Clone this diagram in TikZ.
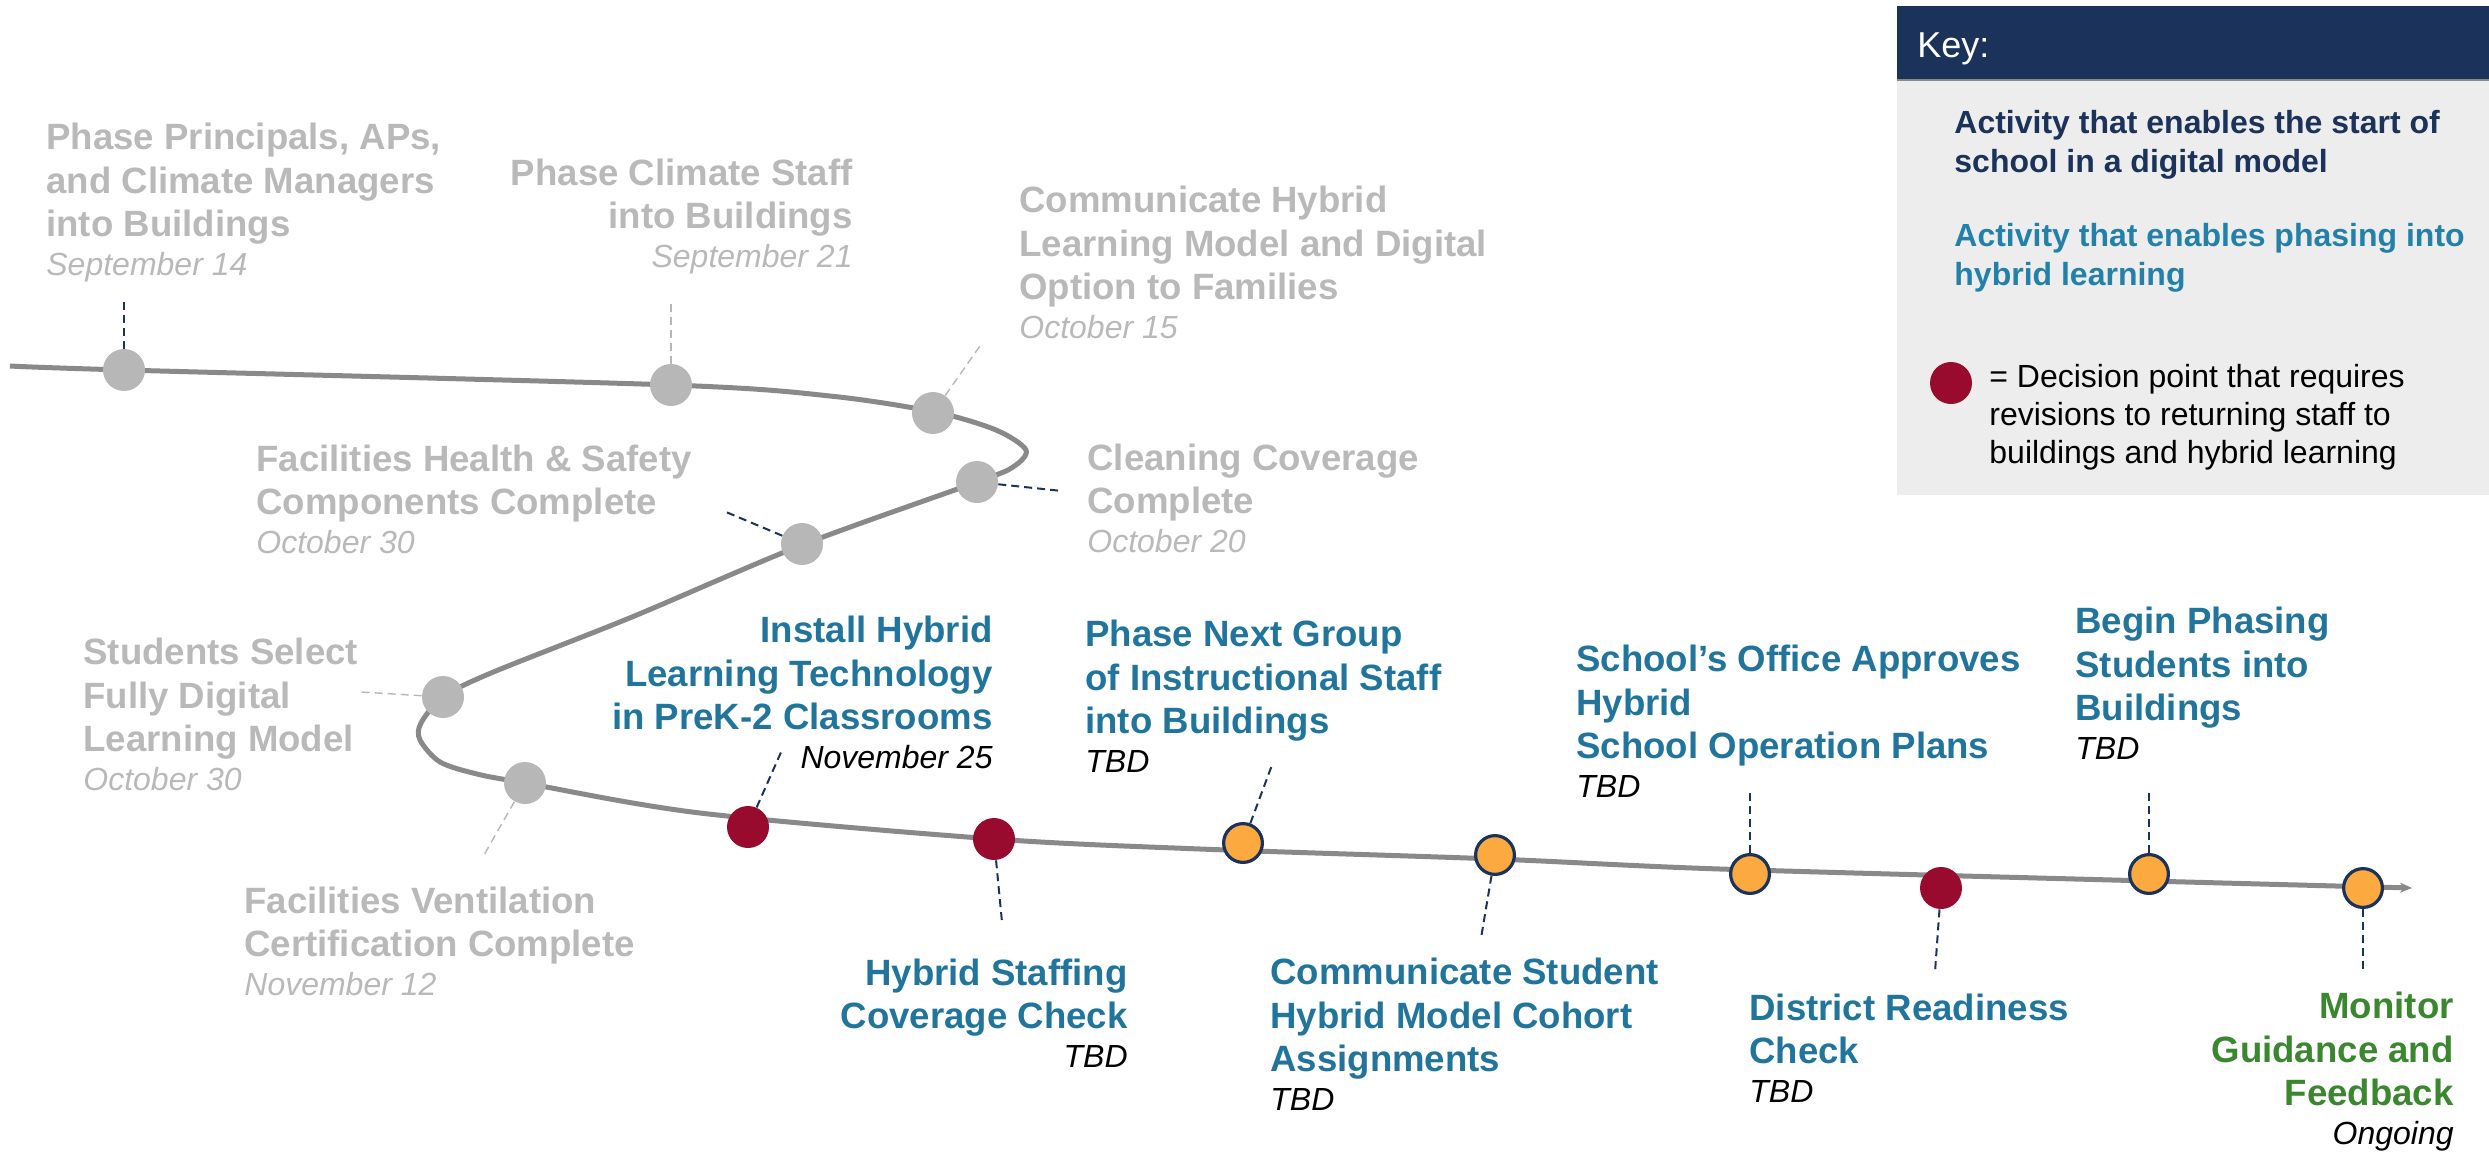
\documentclass[tikz,border=0pt]{standalone}
\usepackage{fontspec}
\setmainfont{Liberation Sans}
\usetikzlibrary{arrows.meta}

\definecolor{navy}{RGB}{27,50,90}
\definecolor{keybg}{RGB}{237,237,237}
\definecolor{linegray}{RGB}{137,137,137}
\definecolor{dotgray}{RGB}{183,183,183}
\definecolor{txtgray}{RGB}{185,185,185}
\definecolor{decred}{RGB}{153,10,47}
\definecolor{dotorange}{RGB}{252,170,64}
\definecolor{hybblue}{RGB}{33,117,157}
\definecolor{keyblue}{RGB}{35,128,168}
\definecolor{mongreen}{RGB}{58,135,48}

\newcommand{\when}[1]{{\fontsize{16}{19}\selectfont\mdseries\itshape #1}}
\newcommand{\whenk}[1]{{\color{black}\when{#1}}}

\begin{document}
\begin{tikzpicture}[x=0.5pt, y=-0.5pt,
    tline/.style={draw=linegray, line width=2.5pt},
    gdot/.style={circle, fill=dotgray, minimum size=21pt, inner sep=0pt},
    rdot/.style={circle, fill=decred, minimum size=21pt, inner sep=0pt},
    odot/.style={circle, fill=dotorange, draw=navy, line width=1.6pt, minimum size=19.4pt, inner sep=0pt},
    lead/.style={navy, line width=1pt, dash pattern=on 4pt off 2.5pt},
    leadg/.style={dotgray, line width=0.7pt, dash pattern=on 4pt off 2.5pt},
    lbl/.style={font=\fontsize{18.3}{21.75}\selectfont\bfseries, inner sep=0pt},
    lft/.style={lbl, align=left, anchor=base west},
    rgt/.style={lbl, align=right, anchor=base east},
    keytxt/.style={font=\fontsize{16}{19.5}\selectfont, inner sep=0pt, align=left, anchor=base west}]
    \useasboundingbox (0,0) rectangle (2489,1151);

    % key box
    \fill[keybg] (1897,80) rectangle (2489,495);
    \fill[navy] (1897,6) rectangle (2489,80);
    \draw[linegray, line width=0.8pt] (1897,80) -- (2489,80);
    \node[keytxt, font=\fontsize{18}{21.6}\selectfont, text=white] (keyttl) at (1917,57) {Key:};
    \node[keytxt, font=\fontsize{16}{19.5}\selectfont\bfseries, text=navy] (key1) at (1954,172) {Activity that enables the start of\\school in a digital model};
    \node[keytxt, font=\fontsize{16}{19.5}\selectfont\bfseries, text=keyblue] (key2) at (1954,285) {Activity that enables phasing into\\hybrid learning};
    \node[rdot] (keydot) at (1951,383) {};
    \node[keytxt, font=\fontsize{16}{19}\selectfont, text=black] (key3) at (1989,463) {= Decision point that requires\\revisions to returning staff to\\buildings and hybrid learning};

    % timeline
    \draw[tline, -{Stealth[length=6pt, width=5pt]}] plot[smooth, tension=0.5] coordinates {
        (10,366) (124,370) (671,385) (830,396) (935,412) (996,430) (1026,450) (1013,467) (977,482)
        (802,545) (632,617) (491,673) (443,697) (421,723) (420,740) (440,762) (477,774) (525,783)
        (700,813) (994,839) (1200,849) (1495,859) (1720,869) (2149,881) (2412,888)};

    % dots
    \node[gdot] (g1) at (124,370) {};
    \node[gdot] (g2) at (671,385) {};
    \node[gdot] (g3) at (933,413) {};
    \node[gdot] (g4) at (977,482) {};
    \node[gdot] (g5) at (802,544) {};
    \node[gdot] (g6) at (443,697) {};
    \node[gdot] (g7) at (525,783) {};
    \node[rdot] (r1) at (748,827) {};
    \node[rdot] (r2) at (994,839) {};
    \node[odot] (o1) at (1243,843) {};
    \node[odot] (o2) at (1495,855) {};
    \node[odot] (o3) at (1750,874) {};
    \node[rdot] (r3) at (1941,888) {};
    \node[odot] (o4) at (2149,874) {};
    \node[odot] (o5) at (2363,888) {};

    % leader ends
    \coordinate (g1e) at (124,302);
    \coordinate (g2e) at (671,302);
    \coordinate (g3e) at (982,343);
    \coordinate (g4e) at (1062,491);
    \coordinate (g5e) at (726,512);
    \coordinate (g6e) at (361,692);
    \coordinate (g7e) at (484,855);
    \coordinate (r1e) at (782,750);
    \coordinate (r2e) at (1002,922);
    \coordinate (o1e) at (1272,765);
    \coordinate (o2e) at (1481,938);
    \coordinate (o3e) at (1750,791);
    \coordinate (r3e) at (1935,972);
    \coordinate (o4e) at (2149,790);
    \coordinate (o5e) at (2363,972);

    \draw[lead] (g1) -- (g1e);
    \draw[leadg] (g2) -- (g2e);
    \draw[leadg] (g3) -- (g3e);
    \draw[lead] (g4) -- (g4e);
    \draw[lead] (g5) -- (g5e);
    \draw[leadg] (g6) -- (g6e);
    \draw[leadg] (g7) -- (g7e);
    \draw[lead] (r1) -- (r1e);
    \draw[lead] (r2) -- (r2e);
    \draw[lead] (o1) -- (o1e);
    \draw[lead] (o2) -- (o2e);
    \draw[lead] (o3) -- (o3e);
    \draw[lead] (r3) -- (r3e);
    \draw[lead] (o4) -- (o4e);
    \draw[lead] (o5) -- (o5e);

    % labels (placed by the baseline of their last line)
    \node[lft, text=txtgray] (t1) at (46,275) {Phase Principals, APs,\\and Climate Managers\\into Buildings\\[-2.5pt]\when{September 14}};
    \node[rgt, text=txtgray] (t2) at (853,267) {Phase Climate Staff\\into Buildings\\[-2.5pt]\when{September 21}};
    \node[lft, text=txtgray] (t3) at (1019,338) {Communicate Hybrid\\Learning Model and Digital\\Option to Families\\[-2.5pt]\when{October 15}};
    \node[lft, text=txtgray] (t4) at (1087,552) {Cleaning Coverage\\Complete\\[-2.5pt]\when{October 20}};
    \node[lft, text=txtgray] (t5) at (256,553) {Facilities Health \& Safety\\Components Complete\\[-2.5pt]\when{October 30}};
    \node[lft, text=txtgray] (t6) at (83,790) {Students Select\\Fully Digital\\Learning Model\\[-2.5pt]\when{October 30}};
    \node[lft, text=txtgray] (t7) at (244,995) {Facilities Ventilation\\Certification Complete\\[-2.5pt]\when{November 12}};
    \node[rgt, text=hybblue] (t8) at (993,768) {Install Hybrid\\Learning Technology\\in PreK-2 Classrooms\\[-2.5pt]\whenk{November 25}};
    \node[rgt, text=hybblue] (t9) at (1128,1067) {Hybrid Staffing\\Coverage Check\\[-2.5pt]\whenk{TBD}};
    \node[lft, text=hybblue] (t10) at (1085,772) {Phase Next Group\\of Instructional Staff\\into Buildings\\[-2.5pt]\whenk{TBD}};
    \node[lft, text=hybblue] (t11) at (1270,1110) {Communicate Student\\Hybrid Model Cohort\\Assignments\\[-2.5pt]\whenk{TBD}};
    \node[lft, text=hybblue] (t12) at (1576,797) {School’s Office Approves\\Hybrid\\School Operation Plans\\[-2.5pt]\whenk{TBD}};
    \node[lft, text=hybblue] (t13) at (2075,759) {Begin Phasing\\Students into\\Buildings\\[-2.5pt]\whenk{TBD}};
    \node[lft, text=hybblue] (t14) at (1749,1102) {District Readiness\\Check\\[-2.5pt]\whenk{TBD}};
    \node[rgt, text=mongreen] (t15) at (2454,1144) {Monitor\\Guidance and\\Feedback\\[-2.5pt]\whenk{Ongoing}};
\end{tikzpicture}
\end{document}
